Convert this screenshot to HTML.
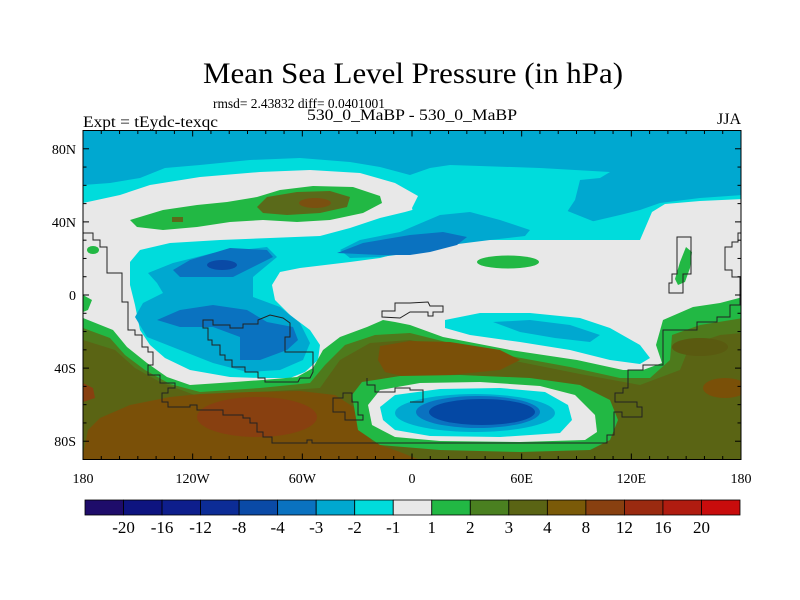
<!DOCTYPE html>
<html><head><meta charset="utf-8"><style>
html,body{margin:0;padding:0;background:#fff;}
svg{display:block;font-family:"Liberation Serif",serif;}
</style></head><body>
<svg id="chart" width="800" height="600" viewBox="0 0 800 600" xmlns="http://www.w3.org/2000/svg">
<defs><clipPath id="mapclip"><rect x="83" y="130.5" width="658" height="329"/></clipPath></defs>
<text x="203" y="83" font-size="30" textLength="420" lengthAdjust="spacingAndGlyphs">Mean Sea Level Pressure (in hPa)</text>
<text x="213" y="108" font-size="14" textLength="172" lengthAdjust="spacingAndGlyphs">rmsd= 2.43832 diff= 0.0401001</text>
<text x="83" y="127" font-size="16" textLength="135" lengthAdjust="spacingAndGlyphs">Expt = tEydc-texqc</text>
<text x="307" y="120" font-size="16" textLength="210" lengthAdjust="spacingAndGlyphs">530_0_MaBP - 530_0_MaBP</text>
<text x="741" y="124" font-size="16" text-anchor="end">JJA</text>

<g clip-path="url(#mapclip)">
<rect x="83" y="130" width="660" height="330" fill="#00a8d0"/>
<path fill="#00dcdc" d="M83,185 L110,183 140,178 165,168 200,165 250,160 300,158 350,162 380,167 410,175 430,168 450,165 480,166 540,168 610,172 600,178 580,180 575,200 565,215 560,222 590,222 620,215 640,210 660,203 700,198 743,195 743,460 83,460Z"/>
<path fill="#e8e8e8" d="M83,203 L120,195 150,185 200,177 260,172 310,170 360,173 395,183 418,196 412,208 420,240 640,240 652,212 665,204 700,201 743,199 743,460 83,460Z"/>
<path fill="#00dcdc" d="M130,262 L140,250 170,243 220,240 270,238 320,236 350,228 380,218 405,212 430,205 460,200 500,198 540,200 570,212 595,222 625,216 645,212 645,222 625,230 600,238 560,240 520,238 480,240 440,245 410,250 380,258 350,262 300,268 280,272 272,285 275,300 290,315 310,330 320,345 318,360 305,372 290,378 260,378 230,377 190,370 165,358 150,345 140,330 135,305 130,285Z"/>
<path fill="#00dcdc" d="M445,320 L480,313 530,313 580,318 610,328 640,345 650,358 640,364 610,360 570,350 520,342 470,335 445,328Z"/>
<path fill="#00a8d0" d="M493,322 L530,320 570,325 600,335 590,342 555,338 520,332Z"/>
<path fill="#00a8d0" d="M148,273 L173,263 213,253 267,247 277,257 253,277 253,297 280,307 300,323 310,343 303,360 280,370 247,372 213,363 180,350 147,337 135,317 143,303 163,293 157,283Z"/>
<path fill="#00a8d0" d="M340,250 L360,240 400,232 440,215 470,212 500,220 530,230 525,236 490,240 450,245 420,252 380,257 350,258Z"/>
<path fill="#0a72c0" d="M173,270 L190,260 230,248 267,250 273,257 253,267 233,277 207,277 180,277Z"/>
<ellipse cx="222" cy="265" rx="15" ry="5" fill="#0a4aa6"/>
<path fill="#0a72c0" d="M157,320 L180,310 213,305 247,310 267,322 293,327 298,340 287,350 260,360 240,360 240,337 213,327 180,327Z"/>
<path fill="#0a72c0" d="M337,253 L363,243 410,235 443,232 467,237 457,245 430,252 410,255 380,255Z"/>
<path fill="#22b844" d="M130,220 L163,210 197,205 227,202 257,197 280,190 313,186 353,187 380,196 382,203 363,213 330,220 297,222 263,220 230,222 197,227 163,230 137,227Z"/>
<path fill="#5a6a1a" d="M257,207 L267,197 297,192 330,191 350,197 347,207 320,213 287,215 263,213Z"/>
<ellipse cx="315" cy="203" rx="16" ry="5" fill="#7a5010"/>
<rect x="172" y="217" width="11" height="5" fill="#5a6a1a"/>
<ellipse cx="93" cy="250" rx="6" ry="4" fill="#22b844"/>
<path fill="#22b844" d="M83,295 L92,300 88,310 83,312Z"/>
<ellipse cx="508" cy="262" rx="31" ry="6.5" fill="#22b844"/>
<path fill="#22b844" d="M680,262 L686,247 692,252 690,268 685,282 678,285 675,279Z"/>
<path fill="#22b844" d="M83,318 L113,330 127,347 147,363 167,377 190,385 220,383 263,380 297,377 313,368 323,350 340,337 367,327 383,320 395,322 410,325 443,337 510,350 577,360 623,370 643,370 662,363 656,345 663,320 693,307 720,303 743,297 743,460 83,460Z"/>
<path fill="#4e7a1c" d="M83,328 L110,338 125,355 145,370 170,384 200,392 260,388 310,383 325,365 345,345 375,335 410,333 450,343 510,356 570,367 620,378 650,378 670,360 672,335 700,325 743,318 743,460 83,460Z"/>
<path fill="#5a6414" d="M83,340 L115,350 135,368 160,382 200,397 260,392 320,388 340,360 370,343 410,340 460,350 520,362 580,374 640,385 680,370 690,345 720,335 743,333 743,460 83,460Z"/>
<path fill="#7a5008" d="M83,455 L88,430 100,418 130,405 170,397 200,394 250,392 300,391 335,395 355,408 365,425 372,442 400,452 420,460 83,460Z"/>
<path fill="#7a5008" d="M380,346 L410,341 450,342 500,350 520,360 500,370 450,375 410,378 385,372 378,360Z"/>
<ellipse cx="725" cy="388" rx="22" ry="10" fill="#7a5008"/>
<ellipse cx="700" cy="347" rx="28" ry="9" fill="#5a5a10"/>
<ellipse cx="257" cy="417" rx="60" ry="20" fill="#884010"/>
<path fill="#884010" d="M83,383 L93,388 95,398 83,402Z"/>
<path fill="#22b844" d="M352,395 L362,382 400,376 460,375 530,378 580,385 610,400 618,420 610,440 590,450 520,452 440,450 380,445 358,430Z"/>
<path fill="#e8e8e8" d="M368,405 L380,390 420,383 480,382 540,386 575,395 595,415 597,432 585,440 520,442 440,441 395,437 372,425Z"/>
<path fill="#00dcdc" d="M380,407 L395,395 440,389 500,388 545,392 568,405 572,420 560,433 500,437 430,436 395,430 383,420Z"/>
<ellipse cx="475" cy="413" rx="80" ry="19" fill="#00a8d0"/>
<ellipse cx="478" cy="412" rx="62" ry="16" fill="#0a72c0"/>
<ellipse cx="482" cy="412" rx="53" ry="13" fill="#0448a4"/>
</g>

<g fill="none" stroke="#222" stroke-width="1" clip-path="url(#mapclip)">
<polyline points="80,233 93,233 93,240 100,240 100,247 107,247 107,273 122,273 122,302 128,302 128,330 135,330 135,335 142,335 142,347 148,347 148,352 153,352 153,365 148,365 148,375 160,375 160,383 175,383 175,388 168,388 168,393 162,393 162,402 168,402 168,407 190,407 190,405 197,405 197,410 223,410 223,415 243,415 243,418 250,418 250,423 257,423 257,432 263,432 263,437 272,437 272,443 307,443 307,440 312,440 312,443 607,443 607,435 614,435 614,412 622,412 622,417 642,417 642,407 637,407 637,402 615,402 615,393 623,393 623,388 628,388 628,370 643,370 643,365 663,365 663,330 697,330 697,322 717,322 717,317 730,317 730,305 740,305 740,277 732,277 732,270 725,270 725,247 732,247 732,242 738,242 738,233 745,233"/>
<polygon points="677,237 691,237 691,274 683,274 683,293 669,293 669,283 672,283 672,274 677,274"/>
<polygon points="382,317 382,311 395,311 395,303 410,303 428,302 430,306 443,306 443,312 433,312 433,316 428,316 428,312 410,312 400,318"/>
<polygon points="203,320 213,320 213,325 230,325 230,328 243,328 243,324 258,324 258,320 270,315 283,318 290,323 290,337 285,337 285,352 313,352 313,372 310,378 300,378 298,382 265,382 265,378 258,378 258,372 245,372 245,367 232,367 232,360 225,360 225,355 220,355 220,345 212,345 212,340 208,340 208,328 203,328"/>
<polygon points="333,398 343,398 343,393 352,393 352,402 358,402 358,415 363,415 363,420 345,420 345,412 333,412"/>
<polyline points="367,378 367,385 375,385 375,392 395,392 395,388 410,388 410,390 423,390 423,402 410,402"/>
</g>

<rect x="83" y="130.5" width="658" height="329" fill="none" stroke="#000" stroke-width="1"/>
<g id="axes"></g>
<g id="colorbar"></g>

<script>
const lonTicks = [-180, -120, -60, 0, 60, 120, 180];
const lonLabels = ["180", "120W", "60W", "0", "60E", "120E", "180"];
const latTicks = [80, 40, 0, -40, -80];
const latLabels = ["80N", "40N", "0", "40S", "80S"];
const cbLevels = ["-20", "-16", "-12", "-8", "-4", "-3", "-2", "-1", "1", "2", "3", "4", "8", "12", "16", "20"];
const cbColors = ["#1e0c6a", "#0e1480", "#0e1e8c", "#0c2c96", "#0a4aa6", "#0a72c0", "#00a8d0", "#00dcdc", "#e8e8e8", "#22b844", "#4a8020", "#5a6414", "#7a5a08", "#884010", "#9a2a10", "#b01c10", "#c80c0c"];

const NS = "http://www.w3.org/2000/svg";
const X0 = 83, X1 = 741, Y0 = 130.5, Y1 = 459.5;
function xOf(lon){ return X0 + (lon + 180) / 360 * (X1 - X0); }
function yOf(lat){ return Y0 + (90 - lat) / 180 * (Y1 - Y0); }
function mk(tag, attrs, parent){ const e = document.createElementNS(NS, tag); for (const k in attrs) e.setAttribute(k, attrs[k]); parent.appendChild(e); return e; }

const axes = document.getElementById("axes");
for (let lon = -180; lon <= 180; lon += 10) {
  const major = lonTicks.includes(lon);
  const L = major ? 6 : 3.5;
  const t1 = mk("line", {x1: xOf(lon), x2: xOf(lon), y1: Y1, y2: Y1 - L, stroke: "#000"}, axes);
  
  
  const t2 = mk("line", {x1: xOf(lon), x2: xOf(lon), y1: Y0, y2: Y0 + L, stroke: "#000"}, axes);
  
  
}
for (let lat = -90; lat <= 90; lat += 10) {
  const major = latTicks.includes(lat);
  const L = major ? 6 : 3.5;
  const t1 = mk("line", {x1: X0, x2: X0 + L, y1: yOf(lat), y2: yOf(lat), stroke: "#000"}, axes);
  
  
  const t2 = mk("line", {x1: X1, x2: X1 - L, y1: yOf(lat), y2: yOf(lat), stroke: "#000"}, axes);
  
  
}
lonTicks.forEach((lon, i) => {
  const t = mk("text", {x: xOf(lon), y: 483, "font-size": 14, "text-anchor": "middle"}, axes);
  t.textContent = lonLabels[i];
  
  
});
latTicks.forEach((lat, i) => {
  const t = mk("text", {x: 76, y: yOf(lat) + 5, "font-size": 14, "text-anchor": "end"}, axes);
  t.textContent = latLabels[i];
  
  
});

const cb = document.getElementById("colorbar");
const CB0 = 85, CB1 = 740, CBY = 500, CBH = 15;
const bw = (CB1 - CB0) / cbColors.length;
cbColors.forEach((c, i) => {
  const r = mk("rect", {x: CB0 + i * bw, y: CBY, width: bw, height: CBH, fill: c, stroke: "#000", "stroke-width": 0.8}, cb);
  
  
});
cbLevels.forEach((lv, i) => {
  const t = mk("text", {x: CB0 + (i + 1) * bw, y: 533, "font-size": 17, "text-anchor": "middle"}, cb);
  t.textContent = lv;
  
  
});
</script>
</svg>
</body></html>
